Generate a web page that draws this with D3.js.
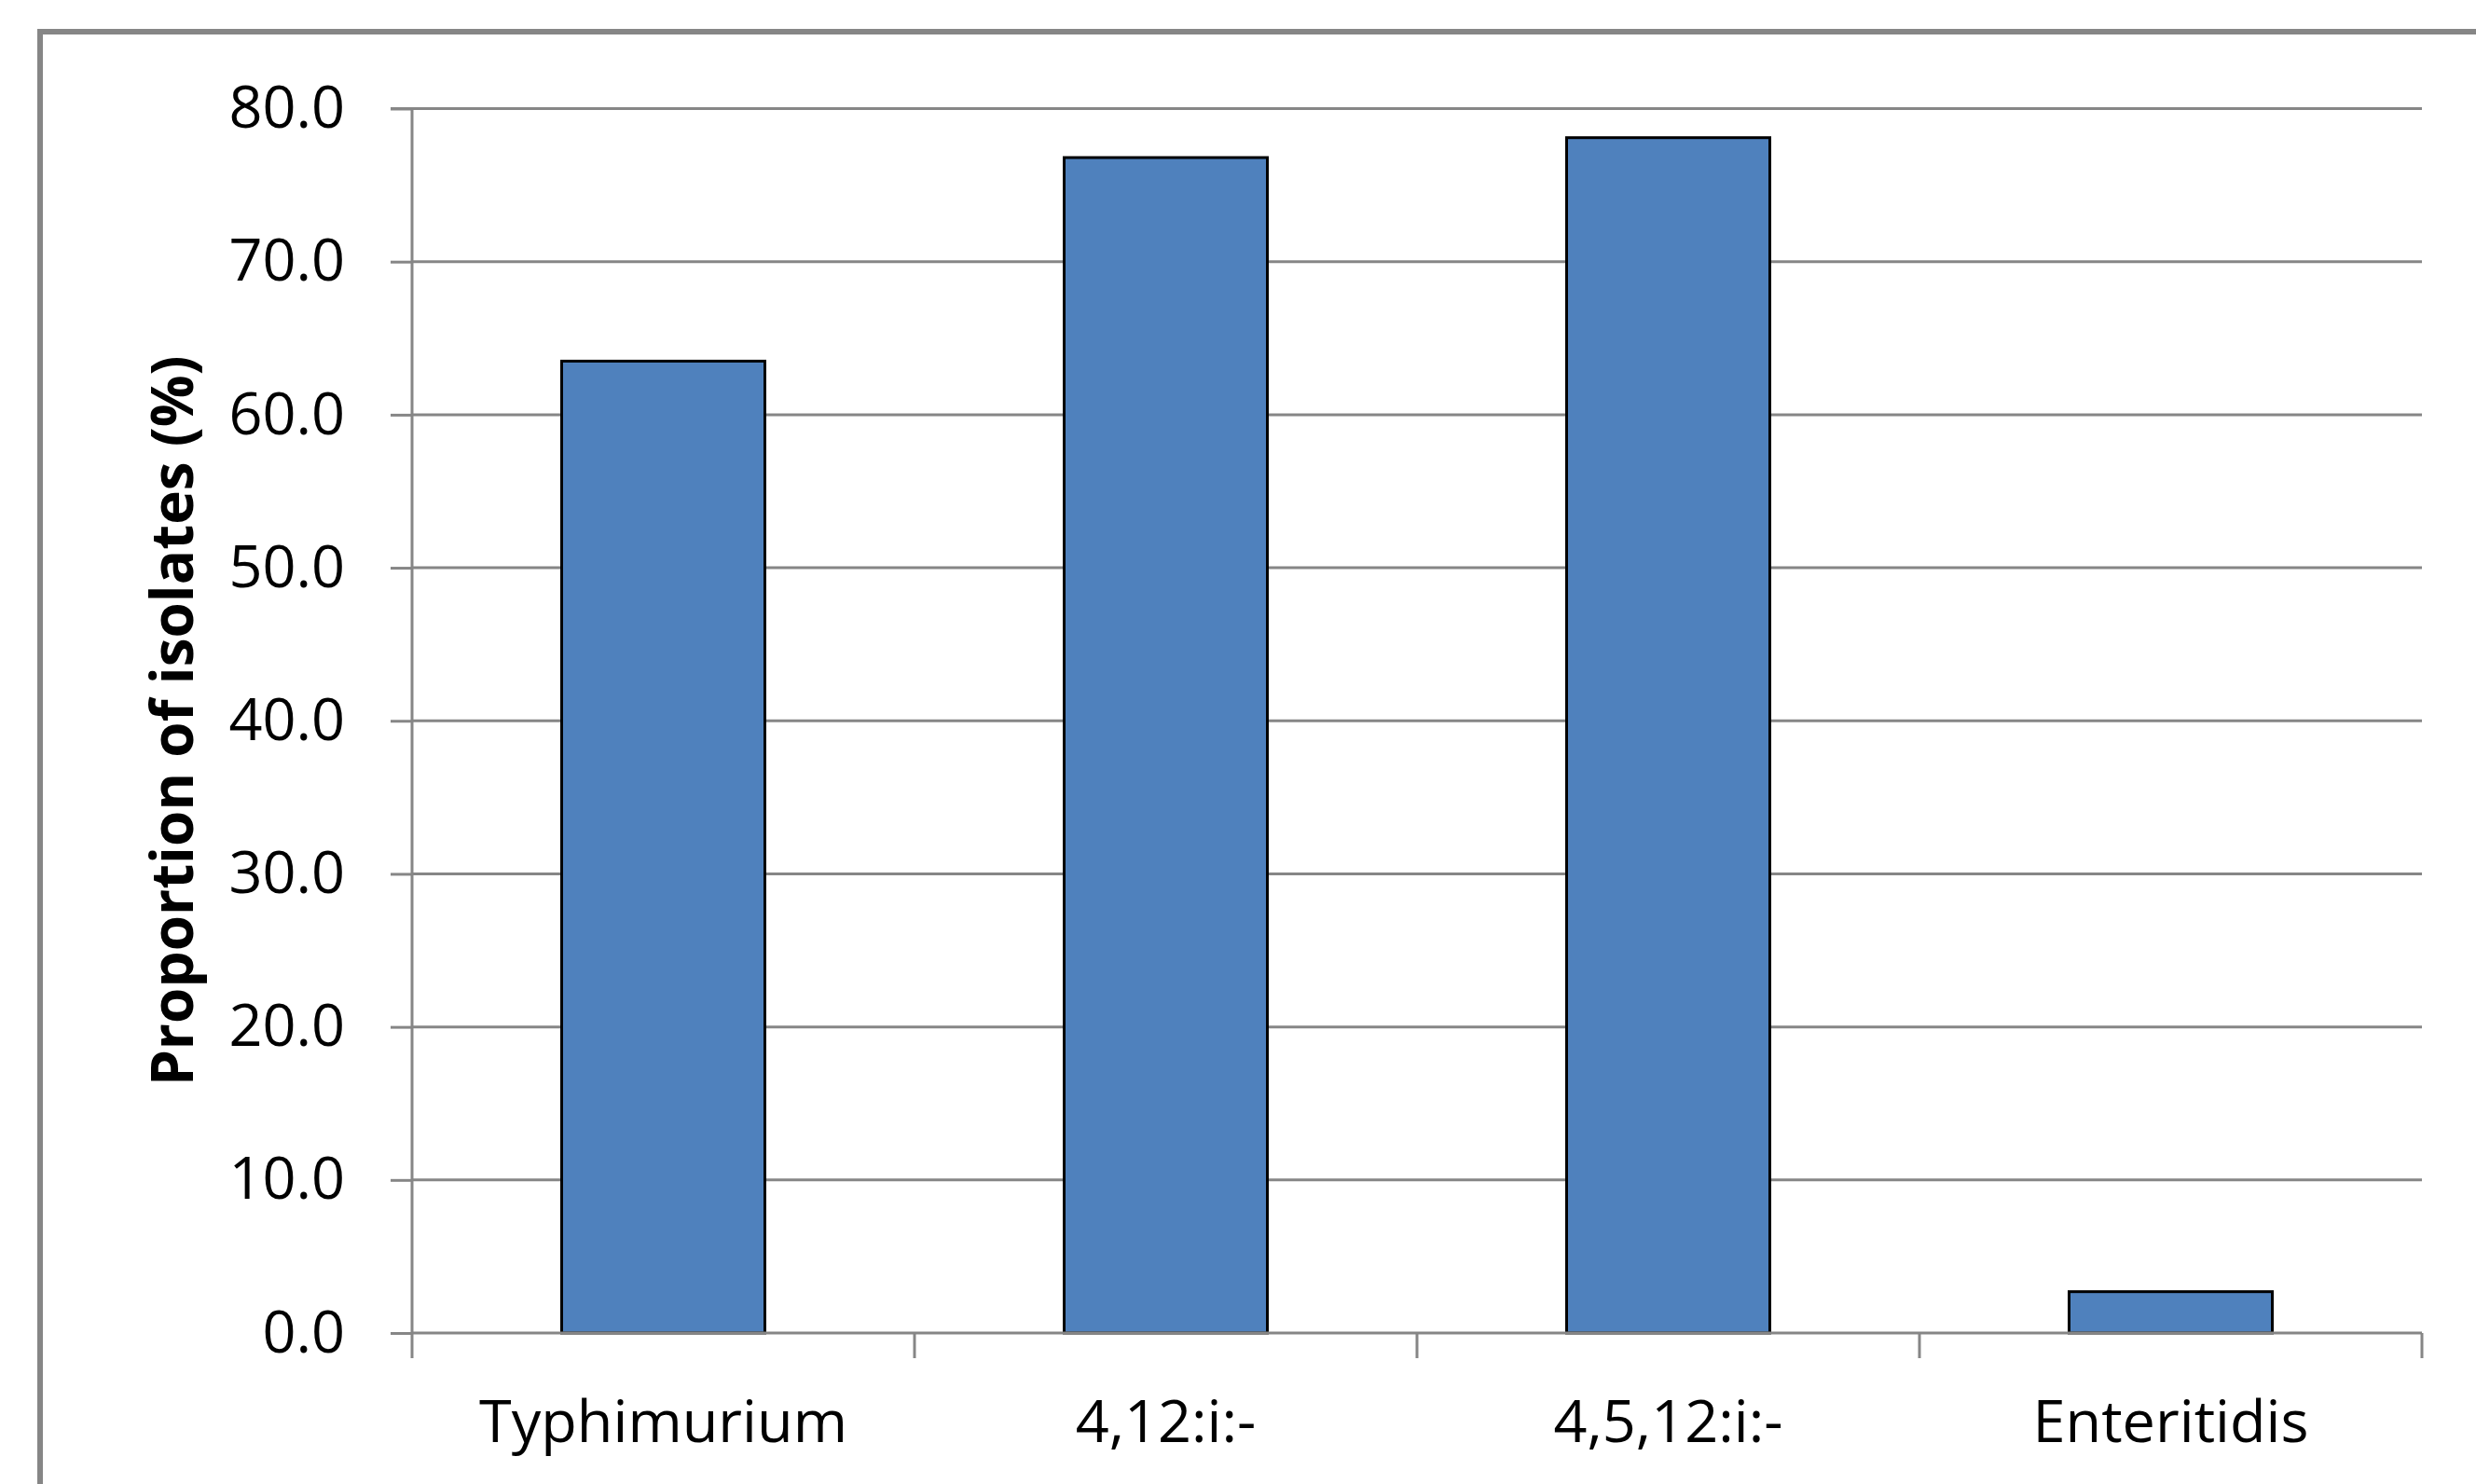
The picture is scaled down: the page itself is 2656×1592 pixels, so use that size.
<!DOCTYPE html>
<html><head><meta charset="utf-8">
<script src="https://cdn.jsdelivr.net/npm/d3@7"></script>
<style>html,body{margin:0;padding:0;background:#fff;}</style>
</head><body>
<script>
const categories = ["Typhimurium", "4,12:i:-", "4,5,12:i:-", "Enteritidis"];
const values = [63.5, 76.8, 78.1, 2.7];
const yTicks = [0, 10, 20, 30, 40, 50, 60, 70, 80];
const yTitle = "Proportion of isolates (%)";

(function () {
const W = 2656, H = 1592;
const svg = d3.select("body").append("svg").attr("width", W).attr("height", H);
svg.append("rect").attr("width", W).attr("height", H).attr("fill", "#fff");
// outer chart border (extends beyond right/bottom edges)
svg.append("rect").attr("x", 43).attr("y", 34).attr("width", W + 40).attr("height", H + 40)
  .attr("fill", "none").attr("stroke", "#868686").attr("stroke-width", 6);

const pl = 442, pr = 2598, pt = 116.5, pb = 1430;
const x = d3.scaleBand().domain(categories).range([pl, pr]).paddingInner(0).paddingOuter(0);
const y = d3.scaleLinear().domain([0, 80]).range([pb, pt]);
const font = "'Open Sans', sans-serif";

// gridlines
svg.append("g").selectAll("line").data(yTicks.filter(d => d > 0)).join("line")
  .attr("x1", pl).attr("x2", pr).attr("y1", d => y(d)).attr("y2", d => y(d))
  .attr("stroke", "#868686").attr("stroke-width", 3);

// y axis
const yAxis = svg.append("g").attr("transform", `translate(${pl},0)`)
  .call(d3.axisLeft(y).tickValues(yTicks).tickSize(23).tickPadding(49).tickFormat(d3.format(".1f")));
yAxis.select(".domain").attr("stroke", "#868686").attr("stroke-width", 3).attr("d", `M-23,${pt}H0V${pb}`);
yAxis.selectAll(".tick line").attr("stroke", "#868686").attr("stroke-width", 3);
yAxis.selectAll(".tick text").attr("font-family", font).attr("font-size", 63).attr("fill", "#000");

// bars
const bw = 218;
svg.append("g").selectAll("rect").data(values).join("rect")
  .attr("x", (d, i) => x(categories[i]) + x.bandwidth() / 2 - bw / 2)
  .attr("width", bw)
  .attr("y", d => y(d))
  .attr("height", d => y(0) - y(d))
  .attr("fill", "#4F81BD").attr("stroke", "#000").attr("stroke-width", 3);

// x axis
const xAxis = svg.append("g").attr("transform", `translate(0,${pb})`)
  .call(d3.axisBottom(x).tickSize(0).tickPadding(0));
xAxis.select(".domain").remove();
xAxis.selectAll(".tick text").attr("font-family", font).attr("font-size", 63).attr("fill", "#000")
  .attr("dy", null).attr("y", 117);
// category boundary ticks
const bounds = categories.map(c => x(c)).concat([pr]);
svg.append("g").selectAll("line").data(bounds).join("line")
  .attr("x1", d => d).attr("x2", d => d).attr("y1", pb).attr("y2", pb + 27)
  .attr("stroke", "#868686").attr("stroke-width", 3);
svg.append("line").attr("x1", pl).attr("x2", pr).attr("y1", pb).attr("y2", pb)
  .attr("stroke", "#868686").attr("stroke-width", 3);

// y title
svg.append("text").attr("transform", `translate(207,${(pt + pb) / 2}) rotate(-90)`)
  .attr("text-anchor", "middle").attr("font-family", font).attr("font-weight", "bold")
  .attr("font-size", 62).attr("fill", "#000").text(yTitle);
})();
</script>
</body></html>
